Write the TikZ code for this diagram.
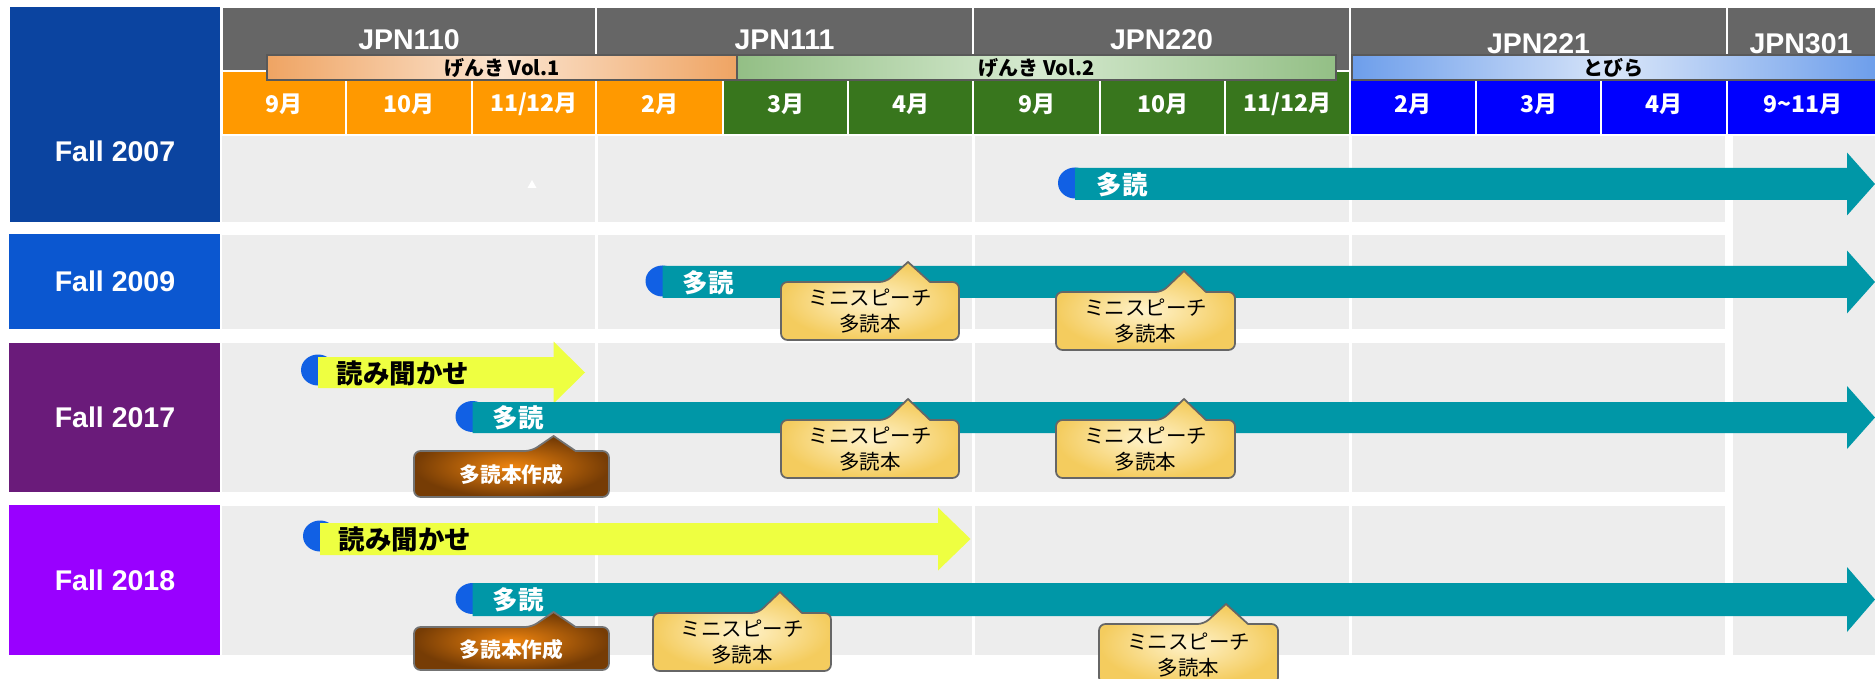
\documentclass[tikz,border=0pt]{standalone}
\usepackage{fontspec}
\setmainfont{Liberation Sans}
\newfontfamily\jp{Noto Sans CJK JP}
\definecolor{hdrgray}{HTML}{666666}
\definecolor{mor}{HTML}{FF9900}
\definecolor{mgr}{HTML}{38761D}
\definecolor{mbl}{HTML}{0000FF}
\definecolor{bandgray}{HTML}{EDEDED}
\definecolor{tealbar}{HTML}{0097A7}
\definecolor{yelbar}{HTML}{EEFF41}
\definecolor{capblue}{HTML}{1160E4}
\definecolor{rowa}{HTML}{0B44A0}
\definecolor{rowb}{HTML}{0B57D0}
\definecolor{rowc}{HTML}{6A1B7A}
\definecolor{rowd}{HTML}{9900FF}
\definecolor{cyin}{HTML}{FFF3CC}
\definecolor{cyout}{HTML}{F4CC5E}
\definecolor{cbin}{HTML}{EE840F}
\definecolor{cbout}{HTML}{763C05}
\definecolor{vaend}{HTML}{EFA463}
\definecolor{vamid}{HTML}{FBE4CF}
\definecolor{vbend}{HTML}{93BF85}
\definecolor{vbmid}{HTML}{D6EAD0}
\definecolor{vcend}{HTML}{6D9EEB}
\definecolor{vcmid}{HTML}{D8E5F9}
\newcommand\tlarrow[7]{% colour, x start, x tip, y centre, bar half, head half, head length
  \fill[#1] (#2,{#4-#5}) -- ({#3-#7},{#4-#5}) -- ({#3-#7},{#4-#6}) -- (#3,#4)
    -- ({#3-#7},{#4+#6}) -- ({#3-#7},{#4+#5}) -- (#2,{#4+#5}) -- cycle;}
\newcommand\tlcap[2]{\fill[capblue] (#1,{#2-1}) ellipse [x radius=6.8pt, y radius=6.2pt];}
\newcommand\callshape[7]{% style, x0, x1, ytop, ybot, tipx, tipy
  \path[#1] ({(#2+#3)/2},#5) [rounded corners=2.6pt] -- (#2,#5) -- (#2,#4)
    -- ({#6-22},#4) [sharp corners] -- (#6,#7) -- ({#6+22},#4) [rounded corners=2.6pt]
    -- (#3,#4) -- (#3,#5) -- cycle;}
\newcommand\bandrow[2]{%
  \fill[bandgray] (222,#1) rectangle (595,#2);
  \fill[bandgray] (598,#1) rectangle (972,#2);
  \fill[bandgray] (975,#1) rectangle (1349,#2);
  \fill[bandgray] (1352,#1) rectangle (1725,#2);}
\begin{document}
\begin{tikzpicture}[x=0.4pt,y=-0.4pt,
  cell/.style={draw=white,line width=0.8pt},
  coursetext/.style={text=white,font=\fontsize{11.4}{13}\selectfont\bfseries,inner sep=0pt},
  monthtext/.style={text=white,font=\jp\fontsize{9.2}{11}\selectfont\bfseries,inner sep=0pt},
  booktext/.style={text=black,font=\jp\fontsize{8}{10}\selectfont\bfseries,inner sep=0pt},
  bookbar/.style={draw=black!65,line width=0.6pt},
  rowlabel/.style={text=white,font=\fontsize{11.4}{13}\selectfont\bfseries,inner sep=0pt},
  tadoku/.style={text=white,font=\jp\fontsize{10.2}{12}\selectfont\bfseries,inner sep=0pt,anchor=west},
  yomi/.style={text=black,font=\jp\fontsize{10.6}{12}\selectfont\bfseries,inner sep=0pt,anchor=west},
  ycall/.style={draw=black!60,line width=0.7pt,inner color=cyin,outer color=cyout},
  bcall/.style={draw=black!55,line width=0.7pt,inner color=cbin,outer color=cbout},
  ycalltext/.style={text=black,font=\jp\fontsize{8.2}{10.6}\selectfont,align=center,inner sep=0pt},
  bcalltext/.style={text=white,font=\jp\fontsize{8.3}{10}\selectfont\bfseries,inner sep=0pt}]
\useasboundingbox (0,0) rectangle (1875,679);
\clip (0,0) rectangle (1875,679);
\fill[white] (0,0) rectangle (1875,679);

% row label boxes
\fill[rowa] (9.5,7.3) rectangle (220,221.7);
\fill[rowb] (9,234) rectangle (220,329);
\fill[rowc] (9,343) rectangle (220,492);
\fill[rowd] (9,505) rectangle (220,655);
\node[rowlabel] (f2007) at (115,151) {Fall 2007};
\node[rowlabel] (f2009) at (115,281.5) {Fall 2009};
\node[rowlabel] (f2017) at (115,417.5) {Fall 2017};
\node[rowlabel] (f2018) at (115,580) {Fall 2018};

% bands
\bandrow{136}{222}
\bandrow{235}{329}
\bandrow{343}{492}
\bandrow{506}{655}
\fill[bandgray] (1733,136) rectangle (1880,655);
\fill[white] (527.5,188) -- (536.5,188) -- (532,180) -- cycle;

% course header
\path[cell,fill=hdrgray] (222,7) rectangle (596,71);
\path[cell,fill=hdrgray] (596,7) rectangle (973,71);
\path[cell,fill=hdrgray] (973,7) rectangle (1350,71);
\path[cell,fill=hdrgray] (1350,7) rectangle (1727,71);
\path[cell,fill=hdrgray] (1727,7) rectangle (1885,71);
\node[coursetext] (c110) at (409,40) {JPN110};
\node[coursetext] (c111) at (784.5,40) {JPN111};
\node[coursetext] (c220) at (1161.5,40) {JPN220};
\node[coursetext] (c221) at (1538.5,44) {JPN221};
\node[coursetext] (c301) at (1801,44) {JPN301};

% month row
\path[cell,fill=mor] (222,71) rectangle (346,135);
\path[cell,fill=mor] (346,71) rectangle (472,135);
\path[cell,fill=mor] (472,71) rectangle (596,135);
\path[cell,fill=mor] (596,71) rectangle (723,135);
\path[cell,fill=mgr] (723,71) rectangle (848,135);
\path[cell,fill=mgr] (848,71) rectangle (973,135);
\path[cell,fill=mgr] (973,71) rectangle (1100,135);
\path[cell,fill=mgr] (1100,71) rectangle (1225,135);
\path[cell,fill=mgr] (1225,71) rectangle (1350,135);
\path[cell,fill=mbl] (1350,71) rectangle (1476,135);
\path[cell,fill=mbl] (1476,71) rectangle (1601,135);
\path[cell,fill=mbl] (1601,71) rectangle (1727,135);
\path[cell,fill=mbl] (1727,71) rectangle (1885,135);
\node[monthtext] (m1) at (284,104) {9月};
\node[monthtext] (m2) at (409,104) {10月};
\node[monthtext] (m3) at (534,104) {11/12月};
\node[monthtext] (m4) at (659.5,104) {2月};
\node[monthtext] (m5) at (785.5,104) {3月};
\node[monthtext] (m6) at (910.5,104) {4月};
\node[monthtext] (m7) at (1036.5,104) {9月};
\node[monthtext] (m8) at (1162.5,104) {10月};
\node[monthtext] (m9) at (1287.5,104) {11/12月};
\node[monthtext] (m10) at (1413,104) {2月};
\node[monthtext] (m11) at (1538.5,104) {3月};
\node[monthtext] (m12) at (1664,104) {4月};
\node[monthtext] (m13) at (1803,104) {9\textasciitilde 11月};

% textbook bars
\path[bookbar,left color=vaend,right color=vaend,middle color=vamid] (267,55) rectangle (737,80);
\path[bookbar,left color=vbend,right color=vbend,middle color=vbmid] (737,55) rectangle (1336,80);
\path[bookbar,left color=vcend,right color=vcend,middle color=vcmid] (1352,55) rectangle (1876,80);
\node[booktext] (vol1) at (502,68) {げんき Vol.1};
\node[booktext] (vol2) at (1036.5,68) {げんき Vol.2};
\node[booktext] (tobira) at (1613,68) {とびら};

% row 1
\tlcap{1075}{184}
\tlarrow{tealbar}{1075}{1875}{184}{16}{31.5}{28}
\node[tadoku] (ta1) at (1096,185) {多読};

% row 2
\tlcap{662.5}{282}
\tlarrow{tealbar}{662.5}{1875}{282}{16}{31.5}{28}
\node[tadoku] (ta2) at (682,283) {多読};
\callshape{ycall}{781}{959}{282}{340}{908}{262}
\node[ycalltext] (cb2a) at (870,311) {ミニスピーチ\\多読本};
\callshape{ycall}{1056}{1235}{292}{350}{1184}{271}
\node[ycalltext] (cb2b) at (1145.5,321) {ミニスピーチ\\多読本};

% row 3
\tlcap{318}{371}
\tlarrow{yelbar}{318}{585}{372.5}{15.5}{31}{31.5}
\node[yomi] (yo3) at (336,373) {読み聞かせ};
\tlcap{472.5}{417.5}
\tlarrow{tealbar}{472.5}{1875}{417.5}{15.5}{31.5}{28}
\node[tadoku] (ta3) at (492,418) {多読};
\callshape{bcall}{414}{609}{451}{497}{553.6}{436}
\node[bcalltext] (br3) at (511.5,475) {多読本作成};
\callshape{ycall}{781}{959}{420}{478}{908}{399}
\node[ycalltext] (cb3a) at (870,449) {ミニスピーチ\\多読本};
\callshape{ycall}{1056}{1235}{420}{478}{1184}{399}
\node[ycalltext] (cb3b) at (1145.5,449) {ミニスピーチ\\多読本};

% row 4
\tlcap{320}{537}
\tlarrow{yelbar}{320}{970.5}{539}{16}{31.5}{32.5}
\node[yomi] (yo4) at (338,539) {読み聞かせ};
\tlcap{472.5}{599.5}
\tlarrow{tealbar}{472.5}{1875}{599.5}{16.5}{32.5}{28}
\node[tadoku] (ta4) at (492,600) {多読};
\callshape{bcall}{414}{609}{627}{670}{553.6}{612}
\node[bcalltext] (br4) at (511.5,650) {多読本作成};
\callshape{ycall}{653}{831}{613}{671}{780}{592}
\node[ycalltext] (cb4a) at (742,642) {ミニスピーチ\\多読本};
\callshape{ycall}{1099}{1278}{624}{684}{1226}{604}
\node[ycalltext] (cb4b) at (1188.5,655) {ミニスピーチ\\多読本};
\end{tikzpicture}
\end{document}
